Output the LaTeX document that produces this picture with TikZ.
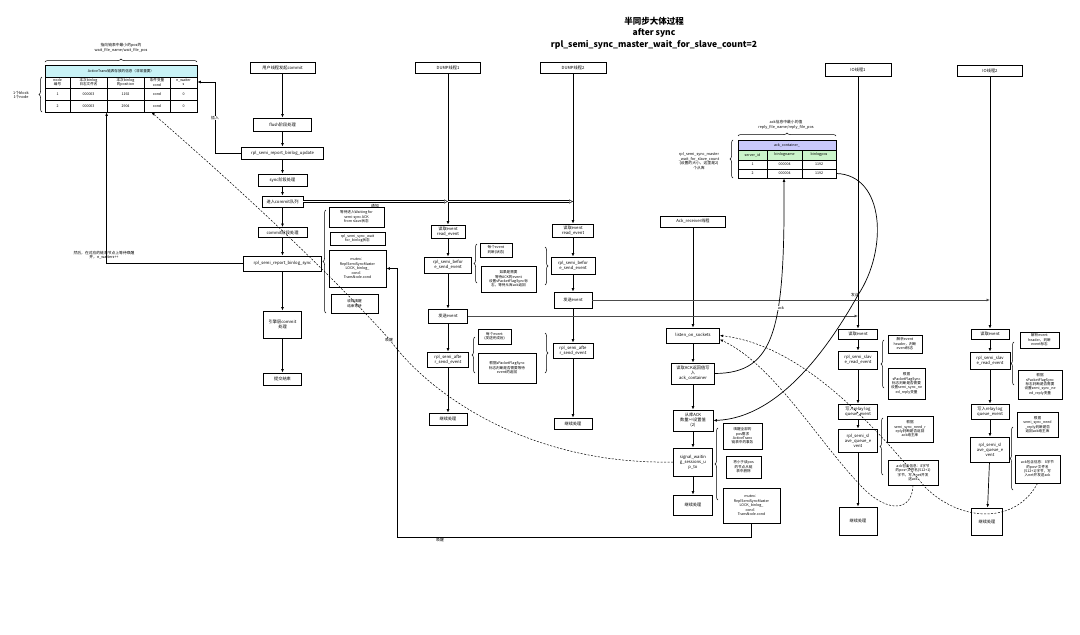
\documentclass[tikz,border=0pt]{standalone}
\usepackage{fontspec}
\setmainfont{Noto Sans CJK SC}
\usetikzlibrary{arrows.meta,decorations.pathreplacing,calc}

\definecolor{hdcyan}{HTML}{C8F2F6}
\definecolor{hdpurple}{HTML}{C9C9FB}
\definecolor{hdgreen}{HTML}{CBF5CB}

\begin{document}
\begin{tikzpicture}[x=1pt,y=-1pt,
  box/.style={draw, line width=0.8pt, fill=white, align=center, inner sep=0.5pt, font=\fontsize{4.2}{5}\selectfont},
  note/.style={box, font=\fontsize{3.6}{4.4}\selectfont},
  lbl/.style={align=center, inner sep=0.5pt, font=\fontsize{3.8}{4.6}\selectfont},
  cell/.style={align=center, inner sep=0pt, font=\fontsize{3.6}{4.2}\selectfont},
  flow/.style={line width=0.7pt, -{Latex[length=3.4pt,width=2.8pt]}},
  dsh/.style={line width=0.5pt, dash pattern=on 2pt off 1.5pt, -{Latex[length=3.2pt,width=2.6pt]}},
  dbl/.style={double, double distance=1.2pt, line width=0.45pt, -{Triangle[open,length=4pt,width=4pt]}},
  sendln/.style={line width=1pt, black!70, -{Latex[length=3.5pt,width=3pt]}},
  brc/.style={decorate, decoration={brace, amplitude=3pt}, line width=0.5pt}]
\useasboundingbox (0,0) rectangle (1080,635);

% title
\node[font=\fontsize{8.5}{11.5}\selectfont\bfseries, align=center] (title) at (654,33)
  {半同步大体过程\\after sync\\rpl\_semi\_sync\_master\_wait\_for\_slave\_count=2};

% ActiveTranx table
\fill[hdcyan] (45,65) rectangle (197,77);
\node[draw, line width=0.8pt, minimum width=152pt, minimum height=47pt, inner sep=0] (ta) at (121,88.5) {};
\draw[line width=0.5pt] (45,77) -- (197,77) (45,88) -- (197,88) (45,100) -- (197,100);
\draw[line width=0.5pt] (70,77) -- (70,112) (107,77) -- (107,112) (144,77) -- (144,112) (170,77) -- (170,112);
\node[cell] at (121,71) {ActiveTranx链表存放的信息（非常重要）};
\node[cell] at (57.5,82.5) {node\\编号};
\node[cell] at (88.5,82.5) {本次binlog\\日志文件名};
\node[cell] at (125.5,82.5) {本次binlog\\的position};
\node[cell] at (157,82.5) {条件变量\\cond};
\node[cell] at (183.5,82.5) {n\_waiter\\s};
\node[cell] at (57.5,94) {1};
\node[cell] at (88.5,94) {000003};
\node[cell] at (125.5,94) {1192};
\node[cell] at (157,94) {cond};
\node[cell] at (183.5,94) {0};
\node[cell] at (57.5,106) {2};
\node[cell] at (88.5,106) {000003};
\node[cell] at (125.5,106) {2904};
\node[cell] at (157,106) {cond};
\node[cell] at (183.5,106) {0};
\draw[brc] (45,62) -- (197,62);
\node[lbl] at (121,48) {指向链表中最小的pos的\\wait\_file\_name/wait\_file\_pos};
\draw[brc] (42,112) -- (42,77);
\node[lbl] at (21,95) {1个block\\1个node};

% ack_container table
\fill[hdpurple] (738,140) rectangle (836,150);
\fill[hdgreen] (738,150) rectangle (836,160);
\node[draw, line width=0.8pt, minimum width=98pt, minimum height=38pt, inner sep=0] (tb) at (787,159) {};
\draw[line width=0.5pt] (738,150) -- (836,150) (738,160) -- (836,160) (738,169) -- (836,169);
\draw[line width=0.5pt] (767,150) -- (767,178) (802,150) -- (802,178);
\node[cell] at (787,145) {ack\_container\_};
\node[cell] at (752.5,155) {server\_id};
\node[cell] at (784.5,155) {binlogname};
\node[cell] at (819,155) {binlogpos};
\node[cell] at (752.5,164.5) {1};
\node[cell] at (784.5,164.5) {000004};
\node[cell] at (819,164.5) {1192};
\node[cell] at (752.5,173.5) {2};
\node[cell] at (784.5,173.5) {000004};
\node[cell] at (819,173.5) {1192};
\draw[brc] (738,136) -- (836,136);
\node[lbl] at (786,125) {ack信息中最小的值\\reply\_file\_name/reply\_file\_pos};
\draw[brc] (733,178) -- (733,140);
\node[lbl] at (699,161) {rpl\_semi\_sync\_master\\\_wait\_for\_slave\_count\\(设置的大小，这里是2)\\个从库};

% user session
\node[box, minimum width=65pt, minimum height=11pt] (u1) at (282.5,67.5) {用户线程发起commit};
\node[box, minimum width=58pt, minimum height=13pt] (fl) at (282.5,124.5) {flush阶段处理};
\node[box, minimum width=82pt, minimum height=12pt] (bu) at (282.5,153) {rpl\_semi\_report\_binlog\_update};
\node[box, minimum width=49pt, minimum height=12pt] (sy) at (282.5,180) {sync阶段处理};
\node[box, minimum width=41pt, minimum height=11pt] (cmt) at (282.5,201.5) {进入commit队列};
\node[box, minimum width=49pt, minimum height=10pt] (cp) at (282.5,232.5) {commit阶段处理};
\node[box, minimum width=78pt, minimum height=15pt] (cw) at (282.5,263.5) {rpl\_semi\_report\_binlog\_sync};
\node[box, minimum width=38pt, minimum height=27pt] (eg) at (282.5,324.5) {引擎层commit\\处理};
\node[box, minimum width=38pt, minimum height=12pt] (ue) at (282.5,379) {提交结束};
\node[note, minimum width=55pt, minimum height=20pt] (n1) at (356.5,217) {等待进入Waiting for\\semi-sync ACK\\from slave状态};
\node[note, minimum width=55pt, minimum height=13pt] (n2) at (357.5,238.5) {rpl\_semi\_sync\_wait\\for\_binlog状态};
\node[note, minimum width=57pt, minimum height=37pt] (n3) at (357.5,268.5) {mutex：\\ReplSemiSyncMaster\\LOCK\_binlog\_\\cond：\\TransNode.cond};
\node[note, minimum width=47pt, minimum height=19pt] (n4) at (354.5,303.5) {收到唤醒\\结束等待};
\draw[brc] (326,313) -- (326,210);
\draw[flow] (u1) -- (fl);
\draw[flow] (fl) -- (bu);
\draw[flow] (bu) -- (sy);
\draw[flow] (sy) -- (cmt);
\draw[flow] (cmt) -- (cp);
\draw[flow] (cp) -- (cw);
\draw[flow] (cw) -- (eg);
\draw[flow] (eg) -- (ue);
\draw[flow] (bu.west) -- (215,153) |- ([yshift=6.5pt]ta.east);
\node[lbl, fill=white] at (215,118) {插入};
\draw[flow] (cw.west) -| ([xshift=62pt]ta.south west);
\node[lbl] at (104,255) {然后，在对应的链表节点上等待唤醒\\并，n\_waiters++};

% dump thread 1
\node[box, minimum width=65pt, minimum height=11pt] (d1) at (448,67.5) {DUMP线程1};
\node[box, minimum width=34pt, minimum height=13pt] (d1r) at (448,231.5) {读取event\\read\_event};
\node[box, minimum width=47pt, minimum height=16pt] (d1b) at (448,265) {rpl\_semi\_befor\\e\_send\_event};
\node[box, minimum width=39pt, minimum height=14pt] (d1s) at (448,316) {发送event};
\node[box, minimum width=41pt, minimum height=15pt] (d1a) at (448,359.5) {rpl\_semi\_afte\\r\_send\_event};
\node[box, minimum width=38pt, minimum height=12pt] (d1e) at (448,419) {继续处理};
\node[note, minimum width=32pt, minimum height=14pt] (dn1) at (496,250) {每个event\\判断(状态)};
\node[note, minimum width=55pt, minimum height=26pt] (dn2) at (508.5,279) {如果是需要\\等待ACK的event\\设置sPacketFlagSync标\\志，等待从库ack返回};
\node[note, minimum width=33pt, minimum height=15pt] (dn3) at (494.5,336.5) {每个event\\(发送完成后)};
\node[note, minimum width=58pt, minimum height=30pt] (dn4) at (507,368) {根据sPacketFlagSync\\标志判断是否需要等待\\event的返回};
\draw[brc] (477,283) -- (477,244);
\draw[brc] (475,373) -- (475,337);
\draw[brc] (545,247) -- (545,285);
\draw[brc] (545,333) -- (545,373);
\draw[flow] (d1) -- (d1r);
\draw[flow] (d1r) -- (d1b);
\draw[flow] (d1b) -- (d1s);
\draw[flow] (d1s) -- (d1a);
\draw[flow] (d1a) -- (d1e);

% dump thread 2
\node[box, minimum width=66pt, minimum height=11pt] (e1) at (573,67.5) {DUMP线程2};
\node[box, minimum width=41pt, minimum height=13pt] (e1r) at (573,230.5) {读取event\\read\_event};
\node[box, minimum width=44pt, minimum height=17pt] (e1b) at (573,265.5) {rpl\_semi\_befor\\e\_send\_event};
\node[box, minimum width=38pt, minimum height=16pt] (e1s) at (573,300) {发送event};
\node[box, minimum width=40pt, minimum height=15pt] (e1a) at (573,350.5) {rpl\_semi\_afte\\r\_send\_event};
\node[box, minimum width=38pt, minimum height=11pt] (e1e) at (573,423.5) {继续处理};
\draw[flow] (e1) -- (e1r);
\draw[flow] (e1r) -- (e1b);
\draw[flow] (e1b) -- (e1s);
\draw[flow] (e1s) -- (e1a);
\draw[flow] (e1a) -- (e1e);

% notify dump threads
\coordinate (nt1) at (cmt.east -| d1r);
\coordinate (nt2) at (cmt.east -| e1r);
\draw[dbl] (cmt.east) -- (nt1);
\draw[dbl] (nt1) -- (nt2);
\node[lbl] at (375,206) {通知};

% ack receiver
\node[box, minimum width=65pt, minimum height=11pt] (a0) at (693,221.5) {Ack\_receiver线程};
\node[box, minimum width=53pt, minimum height=15pt] (a1) at (693,335.5) {listen\_on\_sockets};
\node[box, minimum width=43pt, minimum height=21pt] (a2) at (693,373.5) {读取ACK返回值写\\入\\ack\_container};
\node[box, minimum width=40pt, minimum height=21pt] (a3) at (693,420.5) {从库ACK\\数量>=设置值\\(2)};
\node[box, minimum width=39pt, minimum height=28pt] (a4) at (693,462) {signal\_waitin\\g\_sessions\_u\\p\_to};
\node[box, minimum width=39pt, minimum height=20pt] (a5) at (693,505) {继续处理};
\node[note, minimum width=39pt, minimum height=26pt] (an1) at (742.5,436) {唤醒全部的\\pos需求\\ActiveTranx\\链表中的事务};
\node[note, minimum width=35pt, minimum height=22pt] (an2) at (743.5,467) {将小于该pos\\的节点从链\\表中删除};
\node[note, minimum width=57pt, minimum height=35pt] (an3) at (751.5,505.5) {mutex：\\ReplSemiSyncMaster\\LOCK\_binlog\_\\cond：\\TransNode.cond};
\draw[brc] (718,500) -- (718,428);
\draw[flow] (a0) -- (a1);
\draw[flow] (a1) -- (a2);
\draw[flow] (a2) -- (a3);
\draw[flow] (a3) -- (a4);
\draw[flow] (a4) -- (a5);
\draw[flow] (an3.south) |- (397,537) |- (n3.east);
\node[lbl, anchor=north] at (440,538) {唤醒};

% slave io thread 1
\node[box, minimum width=66pt, minimum height=13pt] (s0) at (858,69.5) {IO线程1};
\node[box, minimum width=39pt, minimum height=10pt] (s1) at (858,334) {读取event};
\node[box, minimum width=39pt, minimum height=18pt] (s2) at (858,360) {rpl\_semi\_slav\\e\_read\_event};
\node[box, minimum width=39pt, minimum height=15pt] (s3) at (858,411.5) {写入relay log\\queue\_event};
\node[box, minimum width=39pt, minimum height=23pt] (s4) at (858,440.5) {rpl\_semi\_sl\\ave\_queue\_e\\vent};
\node[box, minimum width=38pt, minimum height=28pt] (s5) at (858,521) {继续处理};
\node[note, minimum width=34pt, minimum height=18pt] (sn1) at (905,344) {解析event\\header，判断\\event标志};
\node[note, minimum width=37pt, minimum height=31pt] (sn2) at (906.5,383.5) {根据\\sPacketFlagSync\\标志判断是否需要\\设置semi\_sync\_ne\\ed\_reply变量};
\node[note, minimum width=46pt, minimum height=26pt] (sn3) at (910,429) {根据\\semi\_sync\_need\_r\\eply判断是否返回\\ack给主库};
\node[note, minimum width=50pt, minimum height=25pt] (sn4) at (913,472.5) {ack包含信息：8字节\\的pos+文件名(512+1)\\字节，写入net并发\\送ack};
\draw[brc] (884,388) -- (884,340);
\draw[brc] (883,475) -- (883,418);
\draw[flow] (s0) -- (s1);
\draw[flow] (s1) -- (s2);
\draw[flow] (s2) -- (s3);
\draw[flow] (s3) -- (s4);
\draw[flow] (s4) -- (s5);

% slave io thread 2
\node[box, minimum width=65pt, minimum height=11pt] (t0) at (990,70.5) {IO线程2};
\node[box, minimum width=38pt, minimum height=10pt] (t1) at (990,334) {读取event};
\node[box, minimum width=40pt, minimum height=17pt] (t2) at (990,360.5) {rpl\_semi\_slav\\e\_read\_event};
\node[box, minimum width=38pt, minimum height=15pt] (t3) at (990,411.5) {写入relay log\\queue\_event};
\node[box, minimum width=39pt, minimum height=25pt] (t4) at (990,449.5) {rpl\_semi\_sl\\ave\_queue\_e\\vent};
\node[box, minimum width=31pt, minimum height=27pt] (t5) at (987,521.5) {继续处理};
\node[note, minimum width=39pt, minimum height=16pt] (tn1) at (1039.5,340) {解析event\\header，判断\\event标志};
\node[note, minimum width=44pt, minimum height=29pt] (tn2) at (1040,384.5) {根据\\sPacketFlagSync\\标志判断是否需要\\设置semi\_sync\_ne\\ed\_reply变量};
\node[note, minimum width=41pt, minimum height=25pt] (tn3) at (1037.5,424.5) {根据\\semi\_sync\_need\\\_reply判断是否\\返回ack给主库};
\node[note, minimum width=45pt, minimum height=28pt] (tn4) at (1037.5,469) {ack包含信息：8字节\\的pos+文件名\\(512+1)字节，写\\入net并发送ack};
\draw[brc] (1014,385) -- (1014,342);
\draw[brc] (1013,490) -- (1013,427);
\draw[flow] (t0) -- (t1);
\draw[flow] (t1) -- (t2);
\draw[flow] (t2) -- (t3);
\draw[flow] (t3) -- (t4);
\draw[flow] (t4) -- (t5);

% events sent to slaves
\draw[sendln] (e1s.east) -- (e1s.east -| t1);
\draw[sendln] (d1s.east) -- (d1s.east -| s1);
\node[lbl] at (855,295) {发送};

% ack flow
\draw[flow] (a2.east) .. controls (775,373) and (785,330) .. ([xshift=-3pt]tb.south);
\node[lbl, fill=white] at (781,308) {ack};
\draw[flow] ([yshift=-14.5pt]tb.east) .. controls (885,175) and (888,250) .. (858,295)
  .. controls (830,345) and (780,418) .. (a3.east);
\draw[dsh] (tn4.south) .. controls (1015,525) and (960,522) .. (925,487)
  .. controls (870,420) and (800,345) .. (a1.east);
\draw[dsh] (sn4.south) .. controls (912,512) and (888,512) .. (865,490)
  .. controls (820,445) and (775,365) .. ([yshift=-4pt]a1.east);
\draw[dsh] (a4.west) .. controls (530,465) and (430,395) .. (390,340)
  .. controls (320,262) and (220,172) .. ([xshift=107pt]ta.south west);
\node[lbl, fill=white] at (389,340) {唤醒};
\end{tikzpicture}
\end{document}
